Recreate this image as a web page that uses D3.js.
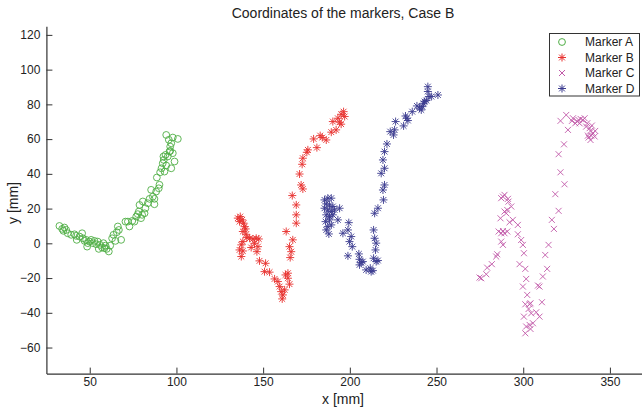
<!DOCTYPE html>
<html>
<head>
<meta charset="utf-8">
<script src="https://cdn.jsdelivr.net/npm/d3@7"></script>
<style>
  body { margin: 0; background: #fff; }
  text { font-family: Arial, "Liberation Sans", sans-serif; }
</style>
</head>
<body>
<div id="chart"></div>
<script>
var markerA = [
  [32.5,10.0],[34.1,8.3],[35.4,9.1],[36.4,7.7],[34.8,7.2],[37.3,5.8],[39.3,4.9],[41.2,5.2],[42.1,4.3],[42.5,2.0],
  [44.1,3.9],[45.6,5.8],[46.0,2.9],[47.0,1.4],[47.9,2.0],[48.5,-1.9],[48.9,0.1],[49.8,1.0],[50.8,2.0],[51.8,0.1],
  [52.7,1.4],[53.7,-0.5],[54.6,1.0],[55.2,-3.2],[56.0,-0.9],[57.1,-2.4],[57.9,0.1],[58.5,-2.8],[59.1,-1.3],[59.8,-3.2],
  [61.0,-4.7],[61.8,-1.3],[62.9,2.9],[63.7,4.9],[64.8,1.4],[65.6,6.4],[66.2,9.7],[66.8,7.7],[68.1,2.0],[70.6,12.5],
  [72.0,12.5],[72.9,9.7],[74.5,12.9],[75.8,12.5],[76.8,15.4],[77.7,16.8],[78.3,18.3],[78.7,22.1],[79.6,14.5],[80.2,16.4],
  [80.6,24.1],[81.6,17.3],[82.1,20.2],[83.5,23.1],[84.5,25.6],[85.4,30.8],[86.4,26.9],[87.3,25.6],[87.3,22.5],[88.3,29.8],
  [88.7,37.9],[89.8,31.7],[90.2,33.7],[90.6,40.9],[91.4,43.2],[92.1,46.1],[92.7,48.0],[93.7,50.9],[93.1,41.3],[94.1,44.8],
  [95.0,50.0],[96.0,52.9],[97.0,43.2],[97.9,51.9],[98.9,47.1],[92.5,50.0],[94.1,62.4],[95.6,59.6],[97.0,57.6],[97.9,60.9],
  [100.8,60.1],[96.4,55.7],[96.4,53.2]
];
var markerB = [
  [135.4,14.5],[136.8,15.4],[137.9,13.5],[136.4,12.5],[138.7,11.6],[139.3,9.6],[139.9,8.3],[138.3,6.8],[140.2,5.2],[140.6,3.3],
  [142.2,2.9],[144.1,2.5],[146.0,2.9],[147.5,2.5],[145.0,0.0],[147.0,-1.9],[143.1,-2.4],[138.3,1.0],[137.4,-0.9],[136.4,-3.8],
  [138.3,-4.4],[137.4,-7.6],[146.4,-4.8],[147.9,-10.1],[151.4,-11.5],[150.8,-16.3],[153.7,-16.6],[156.6,-20.5],[158.5,-22.0],[159.5,-24.9],
  [160.4,-27.8],[161.4,-29.7],[161.0,-32.0],[162.4,-26.8],[162.9,-18.2],[164.3,-17.2],[165.2,-23.5],[164.3,-20.1],[163.3,6.8],[165.2,-1.9],
  [166.2,-4.8],[165.6,-8.2],[167.1,2.0],[169.1,11.6],[169.1,16.4],[169.1,22.1],[166.8,27.5],[171.9,33.6],[172.9,31.3],[171.0,39.9],
  [172.5,45.5],[172.9,49.0],[175.2,52.4],[175.8,53.8],[179.1,60.1],[181.0,55.1],[182.9,62.0],[184.1,60.9],[186.4,59.5],[189.3,64.0],
  [190.2,70.1],[192.1,65.3],[193.1,72.0],[195.0,68.6],[195.0,74.3],[196.4,75.8],[197.0,73.0],[194.1,69.7]
];
var markerC = [
  [274.8,-19.7],[275.8,-20.1],[278.7,-17.8],[279.2,-14.0],[281.9,-12.0],[284.4,-7.6],[285.0,-6.3],[287.3,5.8],[285.8,6.8],[288.3,7.1],
  [289.2,5.8],[290.8,6.8],[287.3,1.0],[288.3,-0.9],[286.9,14.4],[289.2,18.3],[290.8,19.2],[290.2,17.3],[293.1,21.2],[291.5,24.0],
  [291.2,25.6],[288.3,26.9],[289.2,27.9],[287.3,26.0],[292.1,12.1],[294.0,13.5],[296.9,10.6],[296.9,5.2],[298.8,1.9],[299.8,-0.9],
  [300.4,-5.7],[297.9,-12.0],[301.2,-14.7],[301.7,-20.5],[299.8,-24.9],[302.3,-29.7],[301.2,-35.1],[303.7,-35.1],[304.2,-34.5],[303.1,-37.8],
  [300.4,-42.2],[304.6,-40.3],[307.5,-39.7],[309.4,-42.2],[305.6,-46.0],[303.7,-47.0],[301.7,-47.9],[301.2,-51.8],[304.2,-49.3],[310.8,-33.9],
  [309.4,-24.9],[308.5,-24.3],[311.3,-19.1],[313.8,-14.7],[312.7,-6.7],[314.6,-0.9],[317.7,8.3],[316.5,13.5],[320.4,18.7],[318.5,28.3],
  [323.8,34.0],[321.5,40.9],[320.4,51.3],[323.5,57.0],[325.8,65.3],[321.5,70.5],[324.8,73.9],[328.1,70.5],[328.7,72.0],[330.0,69.1],
  [331.9,71.0],[333.1,71.6],[334.4,71.0],[335.4,72.0],[336.9,69.1],[338.3,66.3],[338.8,64.7],[339.2,62.0],[337.7,60.9],[340.2,63.4],
  [341.5,64.7],[341.2,61.5],[338.8,59.5],[337.3,62.0],[336.3,67.2],[339.6,67.8],[332.5,69.1],[331.2,70.1]
];
var markerD = [
  [185.4,25.0],[187.3,26.0],[189.3,26.0],[186.4,22.7],[188.3,22.1],[190.2,21.2],[185.4,20.2],[187.3,19.2],[189.3,18.3],[191.2,19.2],
  [194.1,20.2],[186.4,16.4],[188.3,15.4],[190.2,16.4],[186.0,12.5],[188.3,13.5],[187.3,9.6],[189.3,10.6],[186.4,7.7],[187.9,5.4],
  [193.1,13.5],[199.4,11.9],[196.0,5.8],[198.9,7.7],[200.8,3.9],[199.8,1.0],[201.4,-1.9],[198.9,-7.2],[205.2,-6.1],[205.6,-9.2],
  [206.6,-11.1],[207.5,-10.5],[205.6,-12.4],[209.4,-15.3],[211.8,-14.3],[212.3,-16.3],[213.3,-15.7],[213.7,7.7],[214.3,2.9],[215.2,0.1],
  [214.8,-3.8],[213.7,-8.6],[215.2,-10.5],[216.2,-9.9],[214.3,17.3],[216.2,20.2],[219.4,25.0],[219.1,30.7],[220.0,33.6],[218.1,40.3],
  [220.0,43.2],[219.1,48.0],[220.0,52.8],[221.4,57.2],[223.3,64.3],[225.8,65.3],[225.2,62.4],[226.4,70.1],[231.0,67.6],[232.1,73.3],
  [233.5,70.7],[232.9,72.0],[236.0,75.8],[238.7,79.1],[240.2,77.8],[241.2,76.8],[241.8,78.7],[242.5,80.6],[244.1,82.2],[245.6,84.5],
  [247.0,84.5],[245.0,87.4],[245.0,90.2],[250.8,85.4],[243.1,81.6]
];
var xTicks = [50, 100, 150, 200, 250, 300, 350];
var yTicks = [-60, -40, -20, 0, 20, 40, 60, 80, 100, 120];
var legendNames = ["Marker A", "Marker B", "Marker C", "Marker D"];

var width = 642, height = 411;
var colours = ["#4fae45", "#e8312f", "#c159a9", "#3b3b8f"];
var shapes = ["circle", "star", "cross", "star"];

var svg = d3.select("#chart").append("svg")
    .attr("width", width)
    .attr("height", height);

var x = d3.scaleLinear().domain([25, 370]).range([46.4, 644.6]);
var y = d3.scaleLinear().domain([-75, 125]).range([373.6, 26.2]);

// axes, MATLAB style with inward ticks
var xAxis = svg.append("g")
    .attr("transform", "translate(0," + y(-75) + ")")
    .call(d3.axisBottom(x).tickValues(xTicks).tickSizeInner(-6).tickSizeOuter(0).tickPadding(4));
var yAxis = svg.append("g")
    .attr("transform", "translate(" + x(25) + ",0)")
    .call(d3.axisLeft(y).tickValues(yTicks).tickSizeInner(-6).tickSizeOuter(0).tickPadding(6));

[xAxis, yAxis].forEach(function(a) {
  a.select(".domain").attr("stroke", "#333").attr("stroke-width", 1.2);
  a.selectAll(".tick line").attr("stroke", "#333");
  a.selectAll(".tick text").attr("fill", "#222").style("font-size", "12px")
    .style("font-family", "Arial, 'Liberation Sans', sans-serif");
});

function markerPath(shape) {
  if (shape == "circle") return "M3.4,0A3.4,3.4 0 1,1 -3.4,0A3.4,3.4 0 1,1 3.4,0Z";
  if (shape == "cross") return "M-3,-3L3,3M-3,3L3,-3";
  // asterisk
  return "M-4,0L4,0M0,-4L0,4M-2.9,-2.9L2.9,2.9M-2.9,2.9L2.9,-2.9";
}

var series = [markerA, markerB, markerC, markerD];
series.forEach(function(data, i) {
  svg.append("g").selectAll("path")
    .data(data)
    .enter()
    .append("path")
      .attr("transform", d => "translate(" + x(d[0]) + "," + y(d[1]) + ")")
      .attr("d", markerPath(shapes[i]))
      .attr("fill", "none")
      .attr("stroke", colours[i])
      .attr("stroke-width", 1)
      .attr("opacity", 0.9);
});

// title and labels
svg.append("text")
    .attr("x", 343).attr("y", 18)
    .attr("text-anchor", "middle")
    .style("font-size", "14px").attr("fill", "#222")
    .text("Coordinates of the markers, Case B");
svg.append("text")
    .attr("x", 343).attr("y", 404)
    .attr("text-anchor", "middle")
    .style("font-size", "14px").attr("fill", "#222")
    .text("x [mm]");
svg.append("text")
    .attr("transform", "translate(18,203) rotate(-90)")
    .attr("text-anchor", "middle")
    .style("font-size", "14px").attr("fill", "#222")
    .text("y [mm]");

// legend
var legend = svg.append("g");
legend.append("rect")
    .attr("x", 549.5).attr("y", 33.5)
    .attr("width", 90).attr("height", 62.5)
    .attr("fill", "#fff").attr("stroke", "#333");
legendNames.forEach(function(name, i) {
  var ly = 42 + i * 15.5;
  legend.append("path")
    .attr("transform", "translate(562," + ly + ")")
    .attr("d", markerPath(shapes[i]))
    .attr("fill", "none")
    .attr("stroke", colours[i]);
  legend.append("text")
    .attr("x", 585).attr("y", ly + 4)
    .style("font-size", "12px").attr("fill", "#222")
    .text(name);
});
</script>
</body>
</html>
